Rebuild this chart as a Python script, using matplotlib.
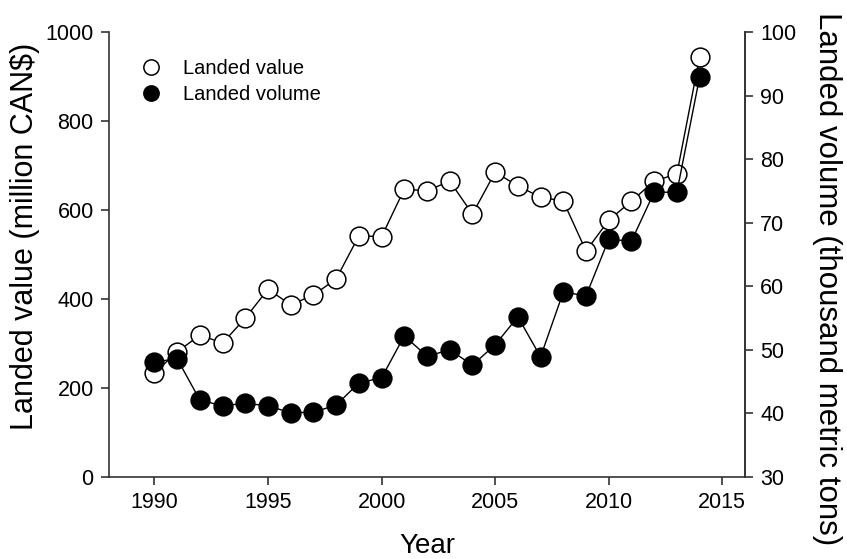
import matplotlib
matplotlib.use("Agg")
import matplotlib.pyplot as plt
from matplotlib.lines import Line2D

plt.rcParams["font.family"] = ["Liberation Sans", "DejaVu Sans"]

# ── Data ─────────────────────────────────────────────────────────────────────
years = list(range(1990, 2015))
landed_value = [234, 281, 319, 301, 357, 422, 387, 409, 445, 542, 540,
                647, 643, 665, 591, 685, 654, 629, 620, 508, 577, 620,
                665, 681, 944]            # million CAN$
landed_volume = [48.1, 48.6, 42.1, 41.2, 41.6, 41.2, 40.1, 40.2, 41.3,
                 44.8, 45.6, 52.2, 49.0, 50.0, 47.6, 50.8, 55.2, 48.9,
                 59.1, 58.5, 67.4, 67.1, 74.8, 74.8, 92.9]  # thousand t

x_ticks = [1990, 1995, 2000, 2005, 2010, 2015]
left_ticks = [0, 200, 400, 600, 800, 1000]
right_ticks = [30, 40, 50, 60, 70, 80, 90, 100]

SPINE = "#333333"

fig = plt.figure(figsize=(8.47, 5.59), dpi=100)
ax = fig.add_axes([0.1287, 0.1467, 0.7509, 0.796])
ax2 = ax.twinx()

ax.plot(years, landed_value, color="black", lw=1.0, marker="o", ms=13.5,
        mfc="white", mec="black", mew=1.1, zorder=3)
ax2.plot(years, landed_volume, color="black", lw=1.0, marker="o", ms=13.5,
         mfc="black", mec="black", mew=1.1, zorder=3)

ax.set_xlim(1988, 2016)
ax.set_ylim(0, 1000)
ax2.set_ylim(30, 100)
ax.set_xticks(x_ticks)
ax.set_yticks(left_ticks)
ax2.set_yticks(right_ticks)

for a in (ax, ax2):
    a.spines["top"].set_visible(False)
    for s in a.spines.values():
        s.set_color(SPINE)
        s.set_linewidth(1.2)
    a.tick_params(direction="out", length=6, width=1.2, color=SPINE,
                  labelsize=15.5, pad=5)
ax2.spines["left"].set_visible(False)
ax2.spines["bottom"].set_visible(False)

# ── Axis titles ──────────────────────────────────────────────────────────────
fig.text(25 / 847, 1 - 236 / 559, "Landed value (million CAN$)",
         rotation=90, ha="center", va="center", fontsize=22)
fig.text(827 / 847, 1 - 279 / 559, "Landed volume (thousand metric tons)",
         rotation=270, ha="center", va="center", fontsize=22.5)
fig.text(427 / 847, 1 - 546 / 559, "Year", ha="center", va="center",
         fontsize=20)

# ── Legend ───────────────────────────────────────────────────────────────────
handles = [
    Line2D([], [], ls="none", marker="o", ms=11, mfc="white", mec="black",
           mew=1.1),
    Line2D([], [], ls="none", marker="o", ms=11, mfc="black", mec="black",
           mew=1.1),
]
ax.legend(handles, ["Landed value", "Landed volume"], loc="upper left",
          bbox_to_anchor=(0.037, 0.957), frameon=False, fontsize=14.5,
          handlelength=1.0, handletextpad=1.1, labelspacing=0.35,
          borderaxespad=0)

fig.savefig("out.png", dpi=100, facecolor="white")
plt.close(fig)
